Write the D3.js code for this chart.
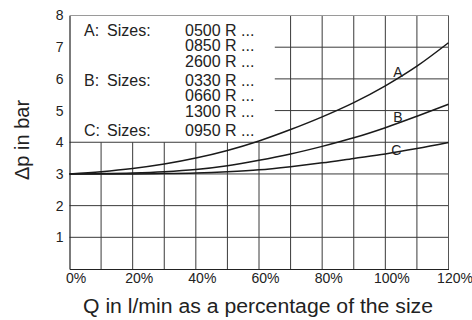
<!DOCTYPE html>
<html>
<head>
<meta charset="utf-8">
<script src="https://cdn.jsdelivr.net/npm/d3@7"></script>
<style>
  html, body { margin: 0; padding: 0; background: #fff; }
  svg { display: block; }
  text { font-family: "Liberation Sans", Arial, Helvetica, sans-serif; fill: #222; }
</style>
</head>
<body>
<svg id="chart" width="472" height="320"></svg>
<script>
// ---- data ----
const flowPct = [0, 10, 20, 30, 40, 50, 60, 70, 80, 90, 100, 110, 120];
const curveA = [3.0, 3.07, 3.17, 3.31, 3.5, 3.74, 4.04, 4.4, 4.8, 5.25, 5.78, 6.4, 7.14];
const curveB = [3.0, 3.01, 3.03, 3.07, 3.14, 3.26, 3.43, 3.63, 3.87, 4.14, 4.46, 4.82, 5.2];
const curveC = [3.0, 3.0, 3.0, 3.01, 3.03, 3.07, 3.13, 3.23, 3.35, 3.49, 3.63, 3.8, 3.99];
const curveNames = ["A", "B", "C"];
const curveLabelX = [104, 104, 103.5];
const curveLabelY = [6.2, 4.8, 3.75];
const yTicks = [1, 2, 3, 4, 5, 6, 7, 8];
const xTicks = [0, 20, 40, 60, 80, 100, 120];
const xGrid = [10, 20, 30, 40, 50, 60, 70, 80, 90, 100, 110];
const yGrid = [1, 2, 3, 4, 5, 6, 7];
const legendGroupLabels = ["A:", "B:", "C:"];
const legendSizes = [["0500 R ...", "0850 R ...", "2600 R ..."],
                     ["0330 R ...", "0660 R ...", "1300 R ..."],
                     ["0950 R ..."]];
const legendBox = {x0: 0, x1: 65, y0: 4, y1: 8};
const xTitle = "Q in l/min as a percentage of the size";
const yTitle = "Δp in bar";

// ---- chart ----
const svg = d3.select("#chart");
const x = d3.scaleLinear().domain([0, 120]).range([69.5, 448.5]);
const y = d3.scaleLinear().domain([0, 8]).range([269, 15.5]);

const gridCol = "#3a3a3a";

// vertical grid (hidden under legend box)
svg.append("g").selectAll("line").data(xGrid).join("line")
  .attr("x1", d => x(d)).attr("x2", d => x(d))
  .attr("y1", y(0))
  .attr("y2", d => d < legendBox.x1 ? y(legendBox.y0) : y(8))
  .attr("stroke", gridCol).attr("stroke-width", 1);

// horizontal grid
svg.append("g").selectAll("line").data(yGrid).join("line")
  .attr("y1", d => y(d)).attr("y2", d => y(d))
  .attr("x1", d => d > legendBox.y0 ? x(legendBox.x1) : x(0))
  .attr("x2", x(120))
  .attr("stroke", gridCol).attr("stroke-width", 1);

// frame
svg.append("line").attr("x1", x(0)).attr("x2", x(120)).attr("y1", y(8)).attr("y2", y(8))
  .attr("stroke", "#9a9a9a").attr("stroke-width", 1);
svg.append("line").attr("x1", x(120)).attr("x2", x(120)).attr("y1", y(8)).attr("y2", y(0))
  .attr("stroke", "#555").attr("stroke-width", 1);

// axes
const yAxis = svg.append("g").attr("transform", `translate(${x(0)},0)`)
  .call(d3.axisLeft(y).tickValues(yTicks).tickSize(0).tickPadding(6));
yAxis.select(".domain").attr("stroke", "#222").attr("stroke-width", 1.2);
yAxis.selectAll("text").style("font-size", "14px").attr("fill", "#222");

const xAxis = svg.append("g").attr("transform", `translate(0,${y(0)})`)
  .call(d3.axisBottom(x).tickValues(xTicks).tickSize(0).tickPadding(4).tickFormat(d => d + "%"));
xAxis.select(".domain").attr("stroke", "#222").attr("stroke-width", 1.2);
xAxis.selectAll("text").style("font-size", "14px").attr("fill", "#222").attr("dx", 6);

// curves
const series = [curveA, curveB, curveC];
const line = d3.line().x((d, i) => x(flowPct[i])).y(d => y(d)).curve(d3.curveMonotoneX);
svg.append("g").selectAll("path").data(series).join("path")
  .attr("d", d => line(d))
  .attr("fill", "none").attr("stroke", "#1a1a1a").attr("stroke-width", 1.5);

// curve labels
svg.append("g").selectAll("text").data(curveNames).join("text")
  .attr("x", (d, i) => x(curveLabelX[i]))
  .attr("y", (d, i) => y(curveLabelY[i]))
  .attr("dy", "0.35em")
  .attr("text-anchor", "middle")
  .style("font-size", "14px")
  .text(d => d);

// legend
const legendRows = [];
legendSizes.forEach((sizes, g) => sizes.forEach((s, r) => legendRows.push({g, r, s})));
const lg = svg.append("g");
legendRows.forEach((row, i) => {
  const by = 35.5 + i * 15.5 + row.g * 3.5;
  if (row.r === 0) {
    lg.append("text").attr("x", 84).attr("y", by).style("font-size", "16px").text(legendGroupLabels[row.g]);
    lg.append("text").attr("x", 107).attr("y", by).style("font-size", "16px").text("Sizes:");
  }
  lg.append("text").attr("x", 185).attr("y", by).style("font-size", "16px").text(row.s);
});

// titles
svg.append("text").attr("x", 258).attr("y", 313)
  .attr("text-anchor", "middle").style("font-size", "20px")
  .attr("textLength", 350).attr("lengthAdjust", "spacingAndGlyphs")
  .text(xTitle);
svg.append("text").attr("transform", "translate(29,140) rotate(-90)")
  .attr("text-anchor", "middle").style("font-size", "20px")
  .text(yTitle);
</script>
</body>
</html>
